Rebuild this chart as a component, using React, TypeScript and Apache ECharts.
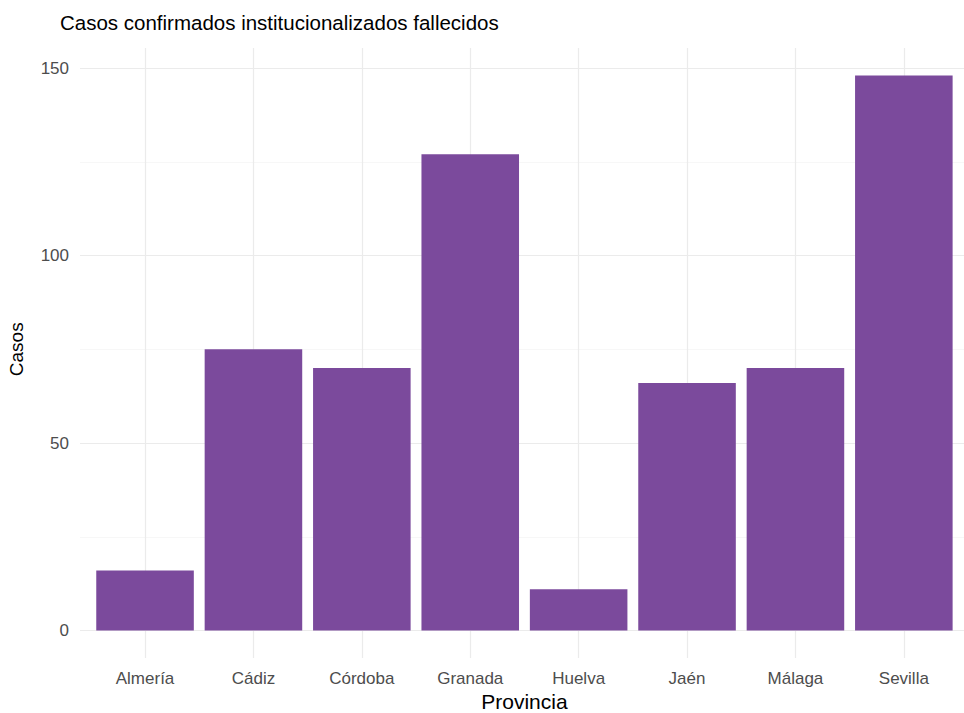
import React, { useEffect, useRef } from "react";
import * as echarts from "echarts";

const categories = ["Almería", "Cádiz", "Córdoba", "Granada", "Huelva", "Jaén", "Málaga", "Sevilla"];
const casos = [16, 75, 70, 127, 11, 66, 70, 148];
const yTicks = [0, 50, 100, 150];
const catPositions = [0, 1, 2, 3, 4, 5, 6, 7];

const FONT = "Liberation Sans, Arial, Helvetica, sans-serif";

export default function App() {
  const ref = useRef<HTMLDivElement>(null);
  useEffect(() => {
    if (!ref.current) return;
    const chart = echarts.init(ref.current, undefined, { renderer: "svg" });
    const unit = 108.4;
    const panelLeft = 80;
    const catLeft = panelLeft + 0.1 * unit;
    const catWidth = 8 * unit;
    const panelTop = 48;
    const panelBottom = 658;
    const y150 = 68;
    const yZero = 630.5;
    chart.setOption({
      animation: false,
      backgroundColor: "#ffffff",
      textStyle: { fontFamily: FONT },
      title: {
        text: "Casos confirmados institucionalizados fallecidos",
        left: 55,
        top: 7,
        textStyle: { fontFamily: FONT, fontSize: 20.5, fontWeight: "normal", color: "#000000" },
      },
      grid: [
        // bars + y scale (0..150)
        { left: catLeft, width: catWidth, top: y150, height: yZero - y150, containLabel: false, outerBoundsMode: "none" },
        // horizontal gridlines across full panel width
        { left: panelLeft, width: 8.2 * unit, top: y150, height: yZero - y150, containLabel: false, outerBoundsMode: "none" },
        // vertical gridlines across full panel height
        { left: catLeft + 0.5 * unit, width: 7 * unit, top: panelTop, height: panelBottom - panelTop, containLabel: false, outerBoundsMode: "none" },
      ],
      xAxis: [
        {
          type: "category",
          gridIndex: 0,
          data: categories,
          axisLine: { show: false },
          axisTick: { show: false },
          splitLine: { show: false },
          axisLabel: { color: "#4d4d4d", fontSize: 17, margin: 39, fontFamily: FONT },
          name: "Provincia",
          nameLocation: "middle",
          nameGap: 58,
          nameTextStyle: { color: "#000000", fontSize: 21, fontFamily: FONT },
        },
        { type: "value", gridIndex: 1, show: false, min: 0, max: 1 },
        {
          type: "value",
          gridIndex: 2,
          min: 0,
          max: catPositions.length - 1,
          interval: 1,
          axisLine: { show: false },
          axisTick: { show: false },
          axisLabel: { show: false },
          splitLine: { show: true, lineStyle: { color: "#ebebeb", width: 1.2 } },
        },
      ],
      yAxis: [
        { type: "value", gridIndex: 0, show: false, min: 0, max: 150, splitLine: { show: false } },
        {
          type: "value",
          gridIndex: 1,
          min: 0,
          max: 150,
          interval: 50,
          axisLine: { show: false },
          axisTick: { show: false },
          axisLabel: {
            color: "#4d4d4d",
            fontSize: 17,
            margin: 11,
            fontFamily: FONT,
            formatter: (v: number) => (yTicks.includes(v) ? String(v) : ""),
          },
          splitLine: { show: true, lineStyle: { color: "#ebebeb", width: 1.2 } },
          minorTick: { show: false, splitNumber: 2 },
          minorSplitLine: { show: true, lineStyle: { color: "#f5f5f5", width: 0.8 } },
          name: "Casos",
          nameLocation: "middle",
          nameGap: 54,
          nameRotate: 90,
          nameTextStyle: { color: "#000000", fontSize: 19, fontFamily: FONT },
        },
        { type: "value", gridIndex: 2, show: false, min: 0, max: 1, splitLine: { show: false } },
      ],
      series: [
        {
          type: "bar",
          xAxisIndex: 0,
          yAxisIndex: 0,
          data: casos,
          barWidth: "90%",
          z: 3,
          itemStyle: { color: "#7b4a9c" },
        },
      ],
    });
    return () => chart.dispose();
  }, []);
  return (
    <div
      ref={ref}
      style={{ position: "fixed", left: 0, top: 0, width: 964, height: 713, background: "#fff" }}
    />
  );
}
